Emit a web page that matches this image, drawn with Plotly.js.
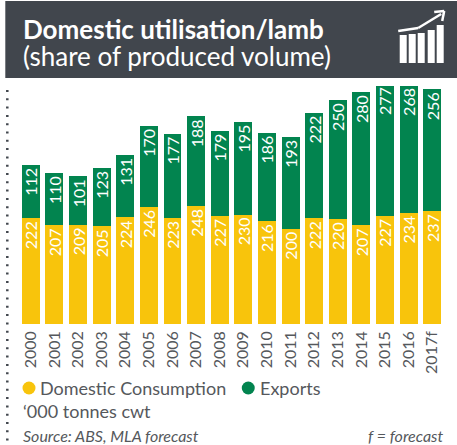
<!DOCTYPE html>
<html><head><meta charset="utf-8">
<script src="https://cdn.plot.ly/plotly-3.0.1.min.js"></script>
<style>html,body{margin:0;padding:0;background:#fff}#c{width:457px;height:445px}</style>
</head><body><div id="c"></div>
<script>
const years=['2000','2001','2002','2003','2004','2005','2006','2007','2008','2009','2010','2011','2012','2013','2014','2015','2016','2017f'];
const domestic=[222,207,209,205,224,246,223,248,227,230,216,200,222,220,207,227,234,237];
const exportsV=[112,110,101,123,131,170,177,188,179,195,186,193,222,250,280,277,268,256];
const YELLOW='#f8c40c', GREEN='#02844f', DARK='#41464d', TXT='#55585c';
const F='Lato, "Open Sans", sans-serif';
const W=457,H=445;
const ML=18.7,MR=13.2,MT=86,MB=121;
const px=x=>(x-ML)/(W-ML-MR), py=y=>1-(y-MT)/(H-MT-MB);
function rect(x0,y0,x1,y1,fill){return {type:'rect',xref:'paper',yref:'paper',x0:px(x0),x1:px(x1),y0:py(y0),y1:py(y1),fillcolor:fill,line:{width:0},layer:'below'};}
function circ(cx,cy,r,fill){return {type:'circle',xref:'paper',yref:'paper',x0:px(cx-r),x1:px(cx+r),y0:py(cy+r),y1:py(cy-r),fillcolor:fill,line:{width:0}};}
function seg2(x0,y0,x1,y1){return {type:'line',xref:'paper',yref:'paper',x0:px(x0),y0:py(y0),x1:px(x1),y1:py(y1),line:{color:'#fff',width:2.5}};}
function note(x,y,text,size,color,anchor){return {xref:'paper',yref:'paper',x:px(x),y:py(y),text,showarrow:false,xanchor:anchor||'left',yanchor:'middle',font:{family:F,size,color}};}
const shapes=[rect(5,1,457,78,DARK),
 {type:'line',xref:'paper',yref:'paper',x0:px(7),x1:px(7),y0:py(90),y1:py(445),line:{color:DARK,width:2.5,dash:'2px,6.3px'}},
 circ(28.7,388,6.5,YELLOW),circ(248,388,6.5,GREEN)];
[[403,35],[412,34],[421,33],[431,30],[440,25]].forEach(b=>{
 shapes.push(Object.assign(rect(b[0]-3.5,b[1],b[0]+3.5,63,'#fff'),{layer:'above'}));
});
shapes.push(seg2(398,31,418,28),seg2(418,28,441,14),seg2(434,12,444,11),seg2(444,11,442,21));
const annotations=[
 note(21,29,'<b>Domestic utilisation/lamb</b>',26,'#fff'),
 note(21,56,'(share of produced volume)',26,'#fff'),
 note(38,388,'Domestic Consumption',18,TXT),
 note(258,388,'Exports',18,TXT),
 note(21,411,'‘000 tonnes cwt',18,TXT),
 note(21,435,'<i>Source: ABS, MLA forecast</i>',16,TXT),
 note(445,435,'<i>f = forecast</i>',16,TXT,'right')
];
const seg=(name,y,color)=>({type:'bar',name,x:years,y,marker:{color,line:{width:0}},text:y.map(String),textposition:'inside',insidetextanchor:'end',textangle:-90,constraintext:'none',insidetextfont:{family:F,size:16,color:'#fff'},cliponaxis:true,hoverinfo:'x+y'});
Plotly.newPlot('c',[seg('Domestic Consumption',domestic,YELLOW),seg('Exports',exportsV,GREEN)],{
 width:W,height:H,paper_bgcolor:'#fff',plot_bgcolor:'#fff',showlegend:false,barmode:'stack',bargap:0.24,
 margin:{l:ML,r:MR,t:MT,b:MB,pad:0},
 xaxis:{type:'category',tickangle:-90,tickfont:{family:F,size:16,color:TXT},ticks:'',ticklabelstandoff:3,showline:false,showgrid:false,zeroline:false,ticklen:0},
 yaxis:{range:[0,500],visible:false,showgrid:false,zeroline:false},
 shapes,annotations
},{displayModeBar:false,staticPlot:true});
</script></body></html>
